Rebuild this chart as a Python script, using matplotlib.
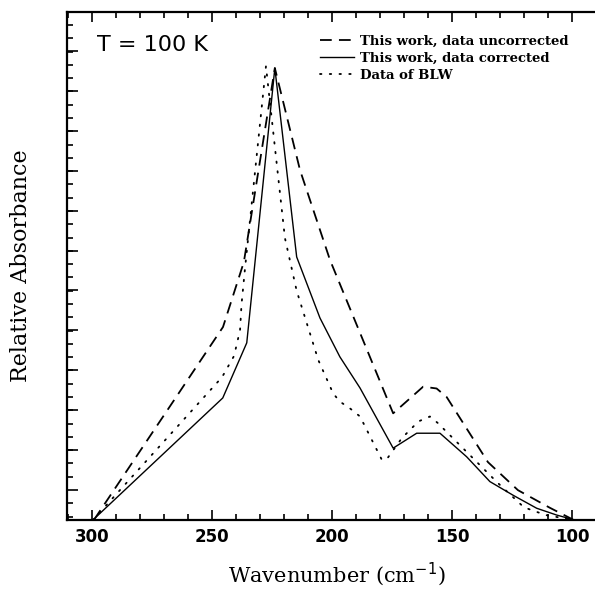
import matplotlib.pyplot as plt
import numpy as np

# wavenumber (cm^-1) and relative absorbance (peak of corrected data = 1)
x_uncorr = [299.2, 245.4, 236.7, 223.8, 213.3, 200.8, 174.5, 162.0, 156.4, 152.2, 135.0, 122.5, 109.2, 99.6]
y_uncorr = [0.0, 0.427, 0.571, 1.0, 0.774, 0.575, 0.236, 0.295, 0.291, 0.272, 0.128, 0.066, 0.027, 0.001]

x_corr = [299.6, 245.5, 235.5, 223.8, 214.7, 205.0, 196.7, 188.3, 174.5, 164.7, 155.0, 143.9, 134.2, 124.6, 114.7, 106.4, 99.6]
y_corr = [0.0, 0.270, 0.392, 1.0, 0.582, 0.447, 0.361, 0.292, 0.159, 0.192, 0.192, 0.140, 0.085, 0.055, 0.026, 0.011, 0.001]

x_blw = [299.6, 245.8, 240.8, 238.3, 237.7, 236.3, 227.5, 219.6, 214.7, 205.7, 199.5, 196.7, 192.5, 188.3,
         179.2, 177.1, 170.9, 164.0, 159.2, 156.0, 131.1, 120.0, 111.0, 99.2]
y_blw = [0.0, 0.316, 0.363, 0.420, 0.476, 0.553, 1.004, 0.624, 0.507, 0.354, 0.280, 0.262, 0.247, 0.229,
         0.133, 0.135, 0.181, 0.218, 0.229, 0.215, 0.083, 0.028, 0.011, 0.0]

labels = ["This work, data uncorrected", "This work, data corrected", "Data of BLW"]

fig = plt.figure(figsize=(5.95, 5.95), dpi=100)
# right spine sits just past the picture edge, as in the scan
ax = fig.add_axes([67 / 595, 75 / 595, 540 / 595, 508 / 595])

ax.plot(x_uncorr, y_uncorr, color='black', lw=1.3, linestyle=(0, (6.5, 4)), label=labels[0])
ax.plot(x_corr, y_corr, color='black', lw=1.0, label=labels[1])
ax.plot(x_blw, y_blw, color='black', lw=1.3, linestyle=(0, (0.8, 4.6)), dash_capstyle='round', label=labels[2])

ax.set_xlim(310.4, 85.4)
ax.set_ylim(0, 1.124)

ax.set_xticks([300, 250, 200, 150, 100])
ax.set_xticks(np.arange(90, 311, 10), minor=True)
ax.set_yticks(0.0664 + 0.0883 * np.arange(12))
ax.set_yticks(0.0076 + 0.0294 * np.arange(38), minor=True)
ax.set_yticklabels([])
ax.tick_params(which='both', direction='in', top=True, right=True, width=1.2)
ax.tick_params(which='major', length=7)
ax.tick_params(which='minor', length=4)
ax.tick_params(axis='y', which='major', length=8)
for lab in ax.get_xticklabels():
    lab.set_fontweight('bold')
    lab.set_fontsize(12)
ax.tick_params(axis='x', pad=6)
for s in ax.spines.values():
    s.set_linewidth(1.6)

ax.set_xlabel("Wavenumber (cm$^{-1}$)", fontsize=15, family='DejaVu Serif', labelpad=10)
ax.set_ylabel("Relative Absorbance", fontsize=16, family='DejaVu Serif', labelpad=22)

ax.text(0.055, 0.935, "T = 100 K", transform=ax.transAxes, fontsize=16, va='center')

leg = ax.legend(loc='upper left', bbox_to_anchor=(313 / 595, 1 - 28 / 595), bbox_transform=fig.transFigure,
                frameon=False, handlelength=2.6, handletextpad=0.5, labelspacing=0.3, borderpad=0,
                prop={'family': 'DejaVu Serif', 'weight': 'bold', 'size': 9.5})

fig.savefig("out.png", dpi=100)
